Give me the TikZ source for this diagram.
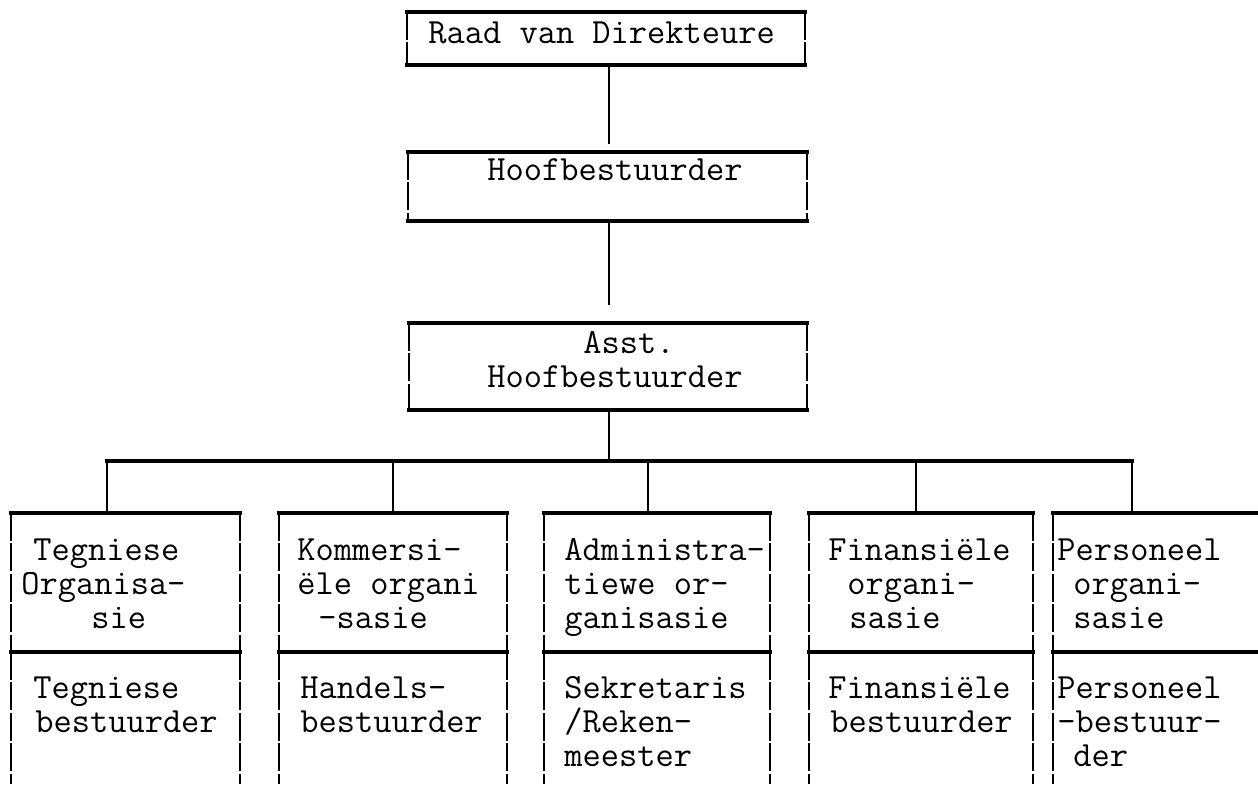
\documentclass[tikz,border=0pt]{standalone}
\usepackage{fontspec}
\usetikzlibrary{fit}
\tikzset{
  kas/.style={inner sep=0pt,outer sep=0pt},
  hor/.style={line width=1.6pt,line cap=rect},
  ver/.style={line width=0.9pt,dash pattern=on 14pt off 1.2pt},
  lyn/.style={line width=0.9pt},
  tik/.style={anchor=base west,inner sep=0pt,font=\ttfamily\fontsize{17.7}{20}\selectfont},
}

\begin{document}
\begin{tikzpicture}[x=0.5pt,y=-0.5pt]
  \clip (0,0) rectangle (1258,784);
  % boxes
  \node[kas,fit={(407,12) (805,65)}] (raad) {};
  \node[kas,fit={(408,152) (807,221)}] (hoof) {};
  \node[kas,fit={(409,323) (807,410)}] (asst) {};
  \foreach \n/\a/\b in {1/11/240, 2/279/507, 3/544/770, 4/809/1033, 5/1053/1300} {
    \node[kas,fit={(\a,513) (\b,652)}] (org\n) {};
    \node[kas,fit={(\a,652) (\b,784)}] (bes\n) {};
  }
  \foreach \k in {raad,hoof,asst,org1,org2,org3,org4,org5} {
    \draw[hor] (\k.north west) -- (\k.north east) (\k.south west) -- (\k.south east);
    \draw[ver] (\k.north west) -- (\k.south west) (\k.north east) -- (\k.south east);
  }
  \foreach \n in {1,...,5}
    \draw[ver] (bes\n.north west) -- (bes\n.south west) (bes\n.north east) -- (bes\n.south east);
  % connectors
  \coordinate (mid) at (609,0);
  \draw[lyn,shorten >=4pt] (mid |- raad.south) -- (mid |- hoof.north);
  \draw[lyn,shorten >=9pt] (mid |- hoof.south) -- (mid |- asst.north);
  \foreach \n/\x in {1/107, 2/393, 3/648, 4/916, 5/1132}
    \coordinate (b\n) at (\x,461);
  \draw[lyn] (mid |- asst.south) -- (mid |- b1);
  \draw[hor] (b1) -- (b5);
  \foreach \n in {1,...,5}
    \draw[lyn] (b\n) -- (b\n |- org\n.north);
  % texts
  \node[tik] (raadt) at (428,43) {Raad van Direkteure};
  \node[tik] (hooft) at (487,180) {Hoofbestuurder};
  \node[tik] (asstt) at (583,353) {Asst.};
  \node[tik] (assth) at (487,387) {Hoofbestuurder};
  \foreach \x/\y/\t [count=\i] in {
    33/560/Tegniese, 21/594/Organisa-, 91/628/sie, 33/698/Tegniese, 35/732/bestuurder,
    297/560/Kommersi-, 297/594/ële organi, 318/628/-sasie, 300/698/Handels-, 300/732/bestuurder,
    564/560/Administra-, 564/594/tiewe or-, 564/628/ganisasie, 564/698/Sekretaris,
    564/732/{/Reken-}, 564/766/meester,
    828/560/Finansiële, 847/594/organi-, 849/628/sasie, 828/698/Finansiële, 830/732/bestuurder,
    1057/560/Personeel, 1073/594/organi-, 1073/628/sasie, 1057/698/Personeel,
    1057/732/-bestuur-, 1073/766/der}
    \node[tik] (r\i) at (\x,\y) {\t};
\end{tikzpicture}
\end{document}
